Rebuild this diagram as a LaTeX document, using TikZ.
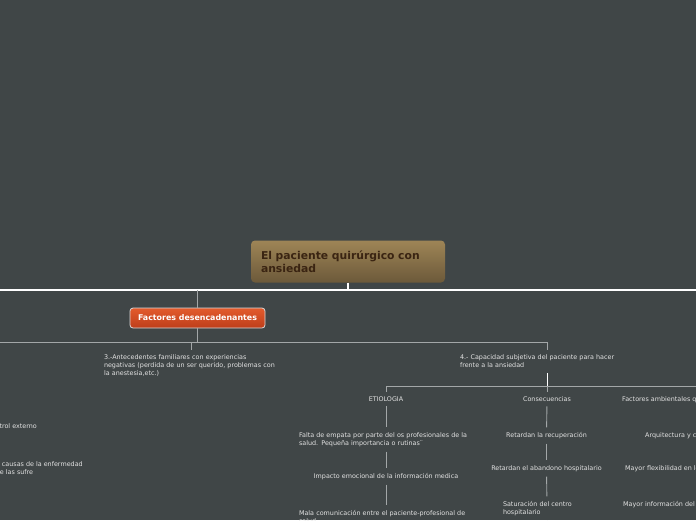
\documentclass[tikz,border=0pt]{standalone}
\usepackage{fontspec}
\setmainfont{DejaVu Sans}
\usepackage{xcolor}
\usetikzlibrary{positioning}

\definecolor{bgcol}{HTML}{404647}
\definecolor{roottop}{HTML}{9E8556}
\definecolor{rootbot}{HTML}{6C593A}
\definecolor{roottxt}{HTML}{3A2412}
\definecolor{topictop}{HTML}{E35B2D}
\definecolor{topicbot}{HTML}{BE3E1A}
\definecolor{topicedge}{HTML}{D9D9D9}
\definecolor{leaftxt}{HTML}{E2E2E2}
\definecolor{linecol}{HTML}{A3A7A8}

\tikzset{
  rootbox/.style={rounded corners=4pt, top color=roottop, bottom color=rootbot,
    text=roottxt, font=\fontsize{10.8}{13}\selectfont\bfseries, align=left,
    text width=174pt, minimum width=194pt, minimum height=42pt, inner xsep=10pt},
  topicbox/.style={draw=topicedge, line width=0.8pt, rounded corners=3pt,
    top color=topictop, bottom color=topicbot, text=white,
    font=\fontsize{7.9}{9}\selectfont\bfseries, minimum width=135pt, minimum height=20pt},
  leaf/.style={text=leaftxt, font=\fontsize{6.4}{8}\selectfont, inner sep=0pt, outer ysep=5pt},
  mainline/.style={draw=white, line width=1.6pt},
  subline/.style={draw=linecol, line width=0.9pt},
}

\begin{document}
\begin{tikzpicture}[x=1pt, y=-1pt]
  % background and frame
  \fill[bgcol] (0,0) rectangle (696,520);
  \useasboundingbox (0,0) rectangle (696,520);
  \clip (0,0) rectangle (696,520);

  % central topic
  \node[rootbox] (root) at (348,261.5) {El paciente quirúrgico con\\ansiedad};
  \coordinate (mainL) at (0,290);
  \coordinate (mainR) at (696,290);
  \draw[mainline] (mainL) -- (mainR);
  \draw[mainline] (root.south) -- (root.south |- mainL);

  % main branch
  \node[topicbox] (fd) at (197.5,318) {Factores desencadenantes};
  \draw[subline, line width=1.3pt] (fd.north |- mainL) -- (fd.north);

  % children of the branch
  \node[leaf, anchor=north, text width=174pt, align=left] (a3) at (191,350)
    {3.-Antecedentes familiares con experiencias\\negativas (perdida de un ser querido, problemas con\\la anestesia,etc.)};
  \node[leaf, anchor=north, text width=175pt, align=left] (a4) at (547.5,350)
    {4.- Capacidad subjetiva del paciente para hacer\\frente a la ansiedad};
  \node[leaf, anchor=east] (l1) at (37,426.5) {Locus de control externo};
  \node[leaf, anchor=north west, align=left] (l2) at (-54,456.5)
    {Atribución de las causas de la enfermedad\\de la persona que las sufre};

  \coordinate (fdL) at (0,342.5);
  \draw[subline] (fd.south) -- (fd.south |- fdL);
  \draw[subline] (fdL) -- (fdL -| a4.north) -- (a4.north);
  \draw[subline] (a3.north |- fdL) -- (a3.north);

  % second level under 4
  \node[leaf] (eti) at (386,399) {ETIOLOGIA};
  \node[leaf] (cons) at (547,399) {Consecuencias};
  \node[leaf, anchor=west] (amb) at (622,399.5) {Factores ambientales que disminuyen la ansiedad};
  \coordinate (a4R) at (696,386);
  \draw[draw=white, line width=1.2pt] (a4.south) -- (a4.south |- a4R);
  \draw[subline] (eti.north |- a4R) -- (a4R);
  \draw[subline] (eti.north |- a4R) -- (eti.north);
  \draw[subline] (cons.north |- a4R) -- (cons.north);

  % ETIOLOGIA
  \node[leaf, text width=174pt, align=left] (e1) at (386,439.5)
    {Falta de empata por parte del os profesionales de la\\salud. Pequeña importancia o rutinas¨};
  \node[leaf] (e2) at (386,476.5) {Impacto emocional de la información medica};
  \node[leaf, text width=174pt, align=left] (e3) at (386,516.5)
    {Mala comunicación entre el paciente-profesional de\\salud};
  \draw[subline] (eti) -- (e1);
  \draw[subline] (e1) -- (e2);
  \draw[subline] (e2) -- (e3);

  % Consecuencias
  \node[leaf] (c1) at (546.5,435.5) {Retardan la recuperación};
  \node[leaf] (c2) at (546.5,468.5) {Retardan el abandono hospitalario};
  \node[leaf, text width=88pt, align=left] (c3) at (547,508.5) {Saturación del centro\\hospitalario};
  \coordinate (c3end) at (547,530);
  \draw[subline] (cons) -- (c1);
  \draw[subline] (c1) -- (c2);
  \draw[subline] (c2) -- (c3);
  \draw[subline] (c3) -- (c3end);

  % Factores ambientales
  \node[leaf, anchor=west] (m1) at (645,435.5) {Arquitectura y color de la habitación};
  \node[leaf, anchor=west] (m2) at (625,468.5) {Mayor flexibilidad en los horarios de visita};
  \node[leaf, anchor=west] (m3) at (623,504.5) {Mayor información del proceso quirúrgico};
\end{tikzpicture}
\end{document}
